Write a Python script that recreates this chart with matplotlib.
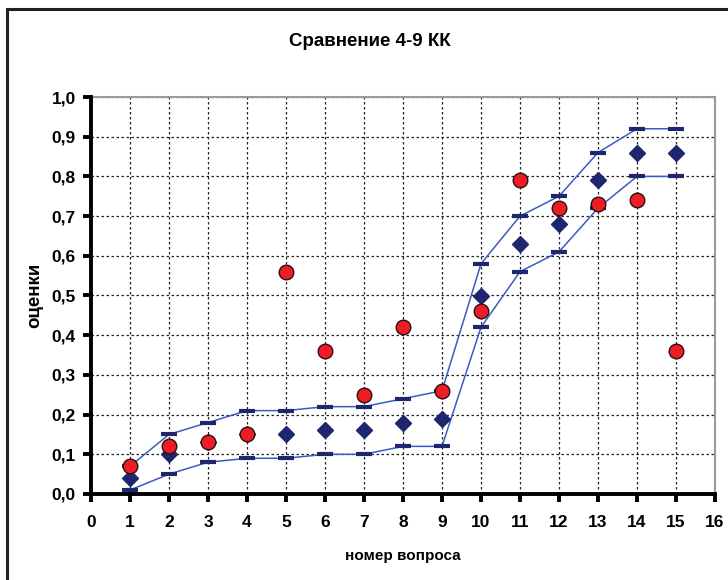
import matplotlib
matplotlib.use("Agg")
import matplotlib.pyplot as plt
from matplotlib.patches import Rectangle
from matplotlib.ticker import FuncFormatter, MultipleLocator

questions = [1, 2, 3, 4, 5, 6, 7, 8, 9, 10, 11, 12, 13, 14, 15]
upper = [0.07, 0.15, 0.18, 0.21, 0.21, 0.22, 0.22, 0.24, 0.26, 0.58, 0.70, 0.75, 0.86, 0.92, 0.92]
lower = [0.01, 0.05, 0.08, 0.09, 0.09, 0.10, 0.10, 0.12, 0.12, 0.42, 0.56, 0.61, 0.72, 0.80, 0.80]
mean_vals = [0.04, 0.10, 0.13, 0.15, 0.15, 0.16, 0.16, 0.18, 0.19, 0.50, 0.63, 0.68, 0.79, 0.86, 0.86]
class_vals = [0.07, 0.12, 0.13, 0.15, 0.56, 0.36, 0.25, 0.42, 0.26, 0.46, 0.79, 0.72, 0.73, 0.74, 0.36]

title = "Сравнение 4-9 КК"
xlabel = "номер вопроса"
ylabel = "оценки"

fam = ['Liberation Sans Narrow', 'Liberation Sans', 'DejaVu Sans']
plt.rcParams['font.family'] = fam

fig = plt.figure(figsize=(7.28, 5.8), dpi=100)
fig.patches.append(Rectangle((7/728, -0.05), 1.1, 1 - 9/580 + 0.05, transform=fig.transFigure,
                             fill=False, edgecolor='#202020', linewidth=2.2))
ax = fig.add_axes([91/728, 1 - 494/580, (715-91)/728, (494-97)/580])

line_col = '#3a5bc4'
dash_col = '#1f2670'
ax.plot(questions, upper, color=line_col, lw=1.1, marker='_', ms=12, mew=3,
        mec=dash_col, zorder=3)
ax.plot(questions, lower, color=line_col, lw=1.1, marker='_', ms=12, mew=3,
        mec=dash_col, zorder=3)
ax.plot(questions, mean_vals, ls='none', marker='D', ms=8.5, color=dash_col, zorder=4)
ax.plot(questions, class_vals, ls='none', marker='o', ms=10.5, mfc='#ee1c24', mec='#2a1010',
        mew=1.0, zorder=5)

ax.set_xlim(0, 16)
ax.set_ylim(0, 1.0)
ax.xaxis.set_major_locator(MultipleLocator(1))
ax.yaxis.set_major_locator(MultipleLocator(0.1))
ax.yaxis.set_major_formatter(FuncFormatter(lambda v, p: f"{v:.1f}".replace('.', ',')))
ax.grid(True, color='#222222', ls=(0, (2, 2)), lw=0.9)
ax.set_axisbelow(True)

for s in ['top', 'right']:
    ax.spines[s].set_color('#9a9a9a')
    ax.spines[s].set_linewidth(1.5)
for s in ['left', 'bottom']:
    ax.spines[s].set_color('black')
    ax.spines[s].set_linewidth(2.8)
    ax.spines[s].set_zorder(6)
ax.tick_params(axis='both', direction='out', length=6, width=2.8, color='black',
               labelsize=12.5, pad=5)
ax.tick_params(axis='x', pad=9)
for lab in ax.get_xticklabels() + ax.get_yticklabels():
    lab.set_fontweight('bold')

ax.set_xlabel(xlabel, fontsize=11, fontweight='bold', labelpad=14)
ax.set_ylabel(ylabel, fontsize=13.5, fontweight='bold', labelpad=6)
fig.text(370/728, 1 - 41/580, title, ha='center', va='center', fontsize=13.5, fontweight='bold')

fig.savefig("out.png", dpi=100)
